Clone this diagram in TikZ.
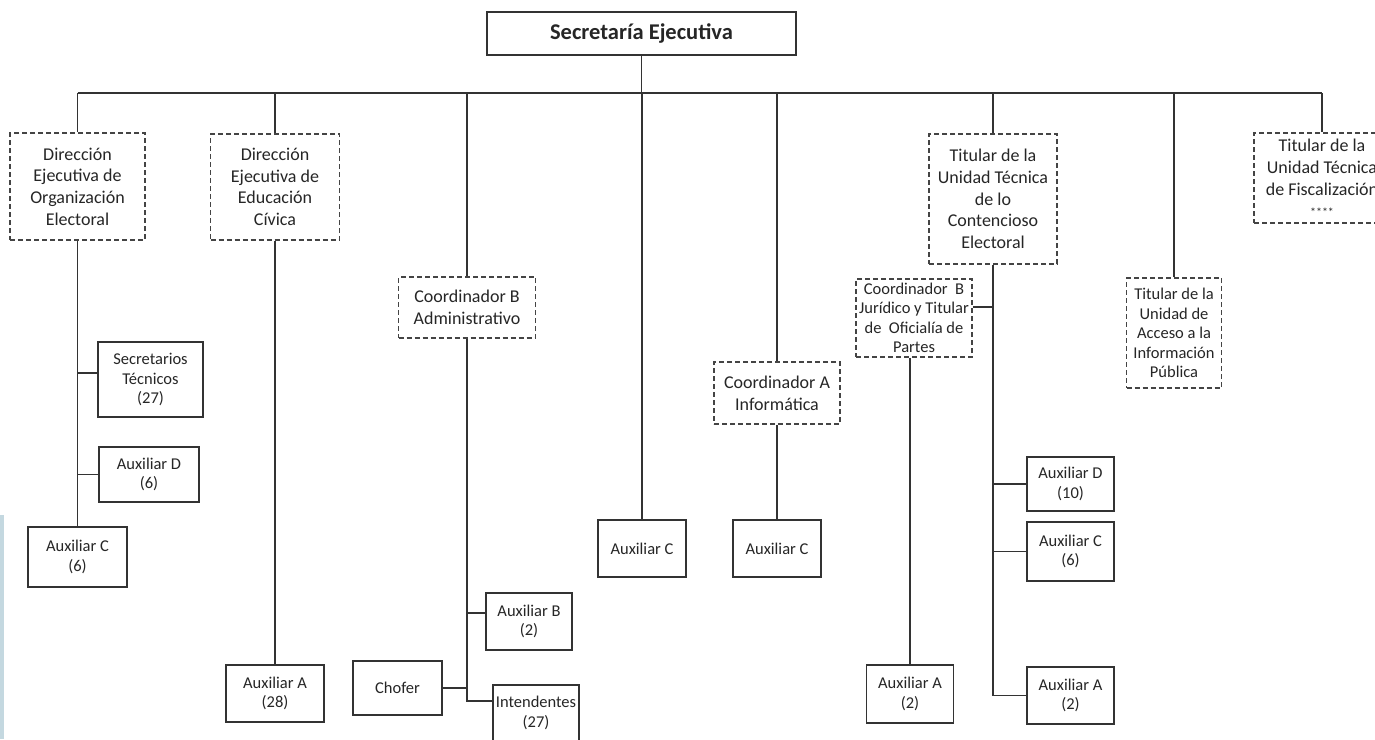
\documentclass[tikz,border=0pt]{standalone}
\usepackage{fontspec}
\setmainfont{Carlito}
\usetikzlibrary{calc}
\definecolor{linecol}{HTML}{333333}
\definecolor{dashcol}{HTML}{444444}
\definecolor{txtcol}{HTML}{262626}
\definecolor{stripcol}{HTML}{C4D8E0}
\begin{document}
\begin{tikzpicture}[x=1pt,y=-1pt,
  box/.style={draw=linecol, line width=1.8pt, rectangle, inner sep=0pt, align=center, text=txtcol},
  solidbox/.style={box, font=\fontsize{16.5}{19.7}\selectfont},
  topbox/.style={box, font=\bfseries\fontsize{22.5}{26}\selectfont},
  dbox/.style={box, draw=dashcol, line width=1.6pt, dash pattern=on 5pt off 3pt, font=\fontsize{18}{21.7}\selectfont},
  dsmall/.style={dbox, font=\fontsize{16.5}{19.5}\selectfont},
  conn/.style={draw=linecol, line width=1.8pt},
]
\useasboundingbox (0,0) rectangle (1375,739);
\clip (0,0) rectangle (1375,739);
\fill[white] (0,0) rectangle (1375,739);
\fill[stripcol] (0,515) rectangle (4,739);

% top
\node[topbox, minimum width=309pt, minimum height=43pt] (sec) at (641.5,33.5) {Secretaría Ejecutiva};

% second level
\node[dbox, minimum width=135pt, minimum height=107pt] (deoe) at (77.5,186.5) {Dirección\\Ejecutiva de\\Organización\\Electoral};
\node[dbox, minimum width=129pt, minimum height=106pt] (deec) at (275,187) {Dirección\\Ejecutiva de\\Educación\\Cívica};
\node[dbox, minimum width=137pt, minimum height=61pt] (cba) at (467,307.5) {Coordinador B\\Administrativo};
\node[solidbox, minimum width=88pt, minimum height=57pt] (auxcm) at (642,548.5) {Auxiliar C};
\node[dbox, minimum width=126pt, minimum height=62pt] (cai) at (777,393) {Coordinador A\\Informática};
\node[dbox, minimum width=128pt, minimum height=130pt] (utce) at (993,199) {Titular de la\\Unidad Técnica\\de lo\\Contencioso\\Electoral};
\node[dsmall, minimum width=95pt, minimum height=110pt] (uaip) at (1174,333) {Titular de la\\Unidad de\\Acceso a la\\Información\\Pública};
\node[dbox, minimum width=136pt, minimum height=90pt] (fisc) at (1322,178) {Titular de la\\Unidad Técnica\\de Fiscalización\\{\fontsize{12}{12}\selectfont ****}};

% DEOE children
\node[solidbox, minimum width=105pt, minimum height=75pt] (sect) at (150.5,379.5) {Secretarios\\Técnicos\\(27)};
\node[solidbox, minimum width=100pt, minimum height=55pt] (auxd6) at (149,474.5) {Auxiliar D\\(6)};
\node[solidbox, minimum width=99pt, minimum height=60pt] (auxc6) at (77.5,557) {Auxiliar C\\(6)};

% DEEC child
\node[solidbox, minimum width=98pt, minimum height=57pt] (auxa28) at (275,693.5) {Auxiliar A\\(28)};

% Coord B Adm children
\node[solidbox, minimum width=86pt, minimum height=57pt] (auxb2) at (529,621.5) {Auxiliar B\\(2)};
\node[solidbox, minimum width=89pt, minimum height=54pt] (chofer) at (397.5,688) {Chofer};
\node[solidbox, minimum width=86pt, minimum height=56pt] (intend) at (536,713) {Intendentes\\(27)};

% Coord A child
\node[solidbox, minimum width=88pt, minimum height=57pt] (auxci) at (777,548.5) {Auxiliar C};

% UTCE children
\node[dsmall, minimum width=116pt, minimum height=78pt] (cbj) at (914,318) {Coordinador~ B\\Jurídico y Titular\\de~ Oficialía de\\Partes};
\node[solidbox, minimum width=87pt, minimum height=58pt] (auxa2l) at (910,694) {Auxiliar A\\(2)};
\node[solidbox, minimum width=87pt, minimum height=54pt] (auxd10) at (1070.5,484) {Auxiliar D\\(10)};
\node[solidbox, minimum width=87pt, minimum height=59pt] (auxc6r) at (1070.5,551.5) {Auxiliar C\\(6)};
\node[solidbox, minimum width=87pt, minimum height=57pt] (auxa2r) at (1070.5,695.5) {Auxiliar A\\(2)};

% bus
\coordinate (bus) at (0,93);
\draw[conn] (sec.south) -- (sec.south |- bus);
\draw[conn] (deoe.north |- bus) -- (fisc.north |- bus);
\foreach \n in {deoe,deec,cba,auxcm,cai,utce,uaip,fisc}
  \draw[conn] (\n.north) -- (\n.north |- bus);

% DEOE branch
\draw[conn] (deoe.south) -- (auxc6.north);
\path ($(sect.west)+(0,-6.5)$) coordinate (sectJ);
\draw[conn] (sectJ) -- (sectJ -| deoe.south);
\draw[conn] (auxd6.west) -- (auxd6.west -| deoe.south);

% DEEC branch
\draw[conn] (deec.south) -- (auxa28.north);

% Coord B Adm branch
\path ($(intend.north west)+(0,17)$) coordinate (intJ);
\path ($(auxb2.west)+(0,-8.5)$) coordinate (auxbJ);
\draw[conn] (cba.south) |- (intJ);
\draw[conn] (auxbJ) -- (auxbJ -| cba.south);
\draw[conn] (chofer.east) -- (chofer.east -| cba.south);

% Coord A branch
\draw[conn] (cai.south) -- (auxci.north);

% UTCE branch
\draw[conn] (utce.south) |- (auxa2r.west);
\path ($(cbj.east)+(0,-11)$) coordinate (cbjJ);
\draw[conn] (cbjJ) -- (cbjJ -| utce.south);
\draw[conn] (auxd10.west) -- (auxd10.west -| utce.south);
\draw[conn] (auxc6r.west) -- (auxc6r.west -| utce.south);
\draw[conn] (cbj.south -| auxa2l.north) -- (auxa2l.north);
\end{tikzpicture}
\end{document}
